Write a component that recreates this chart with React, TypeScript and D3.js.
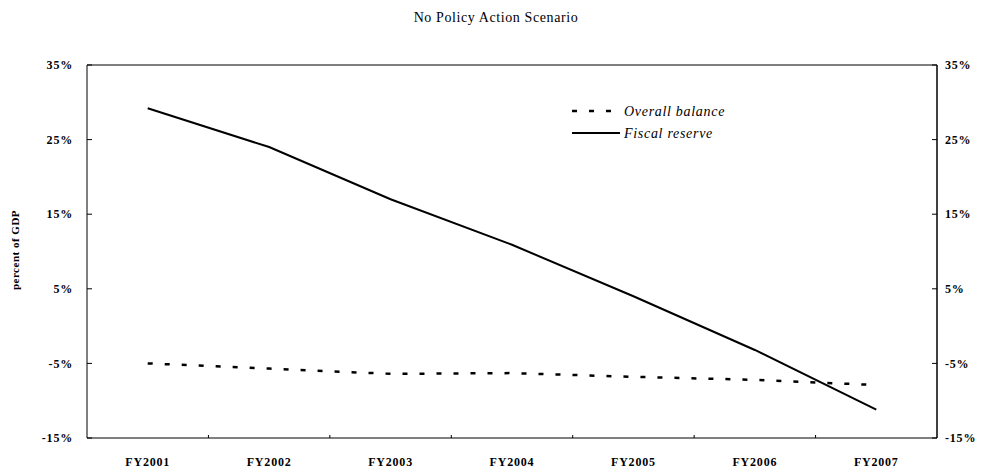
import React, { useEffect, useRef } from 'react';
import * as d3 from 'd3';

const years = ['FY2001', 'FY2002', 'FY2003', 'FY2004', 'FY2005', 'FY2006', 'FY2007'];
const overallBalance = [-5.0, -5.7, -6.4, -6.3, -6.8, -7.2, -7.9];
const fiscalReserve = [29.2, 24.0, 17.0, 10.9, 4.0, -3.2, -11.2];
const yTicks = [35, 25, 15, 5, -5, -15];

const App = () => {
  const svgRef: any = useRef();

  useEffect(() => {
    const width = 993;
    const height = 473;
    const left = 87;
    const right = 937;
    const top = 65;
    const bottom = 438;
    const font = 'Liberation Serif, Times New Roman, serif';

    const svg = d3.select(svgRef.current);
    svg.selectAll('*').remove();
    svg.attr('width', width).attr('height', height);

    const x = d3.scaleBand().domain(years).range([left, right]);
    const y = d3.scaleLinear().domain([-15, 35]).range([bottom, top]);

    // title
    svg.append('text')
      .attr('x', 496).attr('y', 22)
      .attr('text-anchor', 'middle')
      .attr('font-family', font)
      .attr('font-size', '14px')
      .attr('letter-spacing', '0.6px')
      .text('No Policy Action Scenario');

    // frame: left axis, top line, bottom line, right axis
    const frame = svg.append('g').attr('stroke', '#000').attr('fill', 'none');
    frame.append('line').attr('x1', left).attr('x2', left).attr('y1', top).attr('y2', bottom).attr('stroke-width', 1);
    frame.append('line').attr('x1', left).attr('x2', right).attr('y1', top).attr('y2', top).attr('stroke-width', 1);
    frame.append('line').attr('x1', left).attr('x2', right).attr('y1', bottom).attr('y2', bottom).attr('stroke-width', 1);
    frame.append('line').attr('x1', right).attr('x2', right).attr('y1', top).attr('y2', bottom).attr('stroke-width', 1.5);

    const tickLabel = (g: any) => g
      .attr('font-family', font).attr('font-weight', 'bold').attr('font-size', '12px')
      .attr('letter-spacing', '0.8px');

    // y ticks and labels, left and right
    yTicks.forEach((t) => {
      frame.append('line').attr('x1', left).attr('x2', left + 5).attr('y1', y(t)).attr('y2', y(t));
      frame.append('line').attr('x1', right - 5).attr('x2', right).attr('y1', y(t)).attr('y2', y(t));
      tickLabel(svg.append('text'))
        .attr('x', 73).attr('y', y(t)).attr('dy', '0.35em')
        .attr('text-anchor', 'end')
        .text(`${t}%`);
      tickLabel(svg.append('text'))
        .attr('x', 945).attr('y', y(t)).attr('dy', '0.35em')
        .attr('text-anchor', 'start')
        .text(`${t}%`);
    });

    // x ticks at band boundaries and labels
    years.forEach((yr, i) => {
      if (i > 0) {
        const bx = x(yr) as number;
        frame.append('line').attr('x1', bx).attr('x2', bx).attr('y1', bottom).attr('y2', bottom - 3);
      }
      tickLabel(svg.append('text'))
        .attr('x', (x(yr) as number) + x.bandwidth() / 2).attr('y', 466)
        .attr('text-anchor', 'middle')
        .text(yr);
    });

    // y axis title
    svg.append('text')
      .attr('transform', `translate(19, 250) rotate(-90)`)
      .attr('text-anchor', 'middle')
      .attr('font-family', font).attr('font-weight', 'bold').attr('font-size', '11px')
      .attr('letter-spacing', '0.5px')
      .text('percent of GDP');

    const line = d3.line<number>()
      .x((_, i) => (x(years[i]) as number) + x.bandwidth() / 2)
      .y((d) => y(d));

    svg.append('path')
      .attr('d', line(overallBalance))
      .attr('fill', 'none').attr('stroke', '#000')
      .attr('stroke-width', 2.5)
      .attr('stroke-dasharray', '5,12');

    svg.append('path')
      .attr('d', line(fiscalReserve))
      .attr('fill', 'none').attr('stroke', '#000')
      .attr('stroke-width', 2);

    // legend
    const legendText = (g: any) => g
      .attr('font-family', font).attr('font-style', 'italic').attr('font-size', '14px')
      .attr('letter-spacing', '0.7px');
    const lg = svg.append('g');
    lg.append('line').attr('x1', 572).attr('x2', 618).attr('y1', 111).attr('y2', 111)
      .attr('stroke', '#000').attr('stroke-width', 2.5).attr('stroke-dasharray', '5,12');
    legendText(lg.append('text')).attr('x', 624).attr('y', 111).attr('dy', '0.35em')
      .text('Overall balance');
    lg.append('line').attr('x1', 572).attr('x2', 620).attr('y1', 133).attr('y2', 133)
      .attr('stroke', '#000').attr('stroke-width', 2);
    legendText(lg.append('text')).attr('x', 624).attr('y', 133).attr('dy', '0.35em')
      .text('Fiscal reserve');
  }, []);

  return <svg ref={svgRef} style={{ position: 'absolute', left: 0, top: 0 }}></svg>;
};

export default App;
